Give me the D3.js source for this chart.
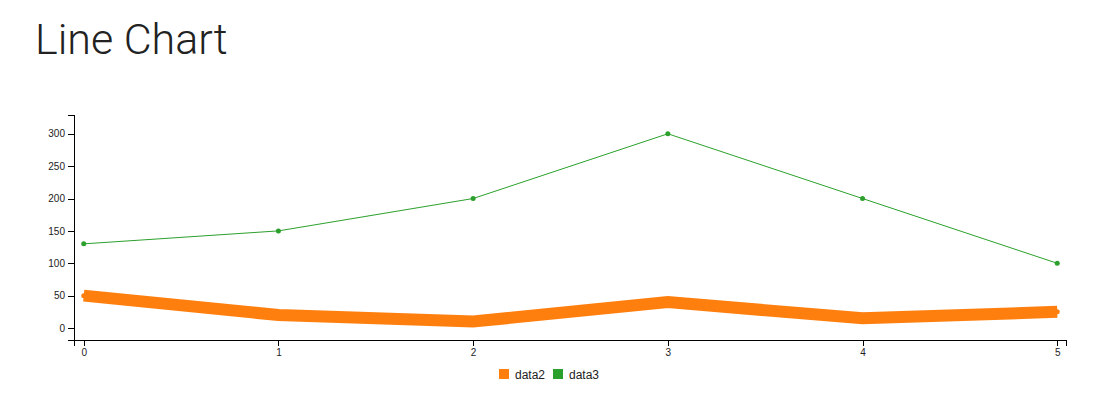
<!DOCTYPE html>
<html>
<head>
<meta charset="utf-8">
<script src="https://cdn.jsdelivr.net/npm/d3@7"></script>
<style>
  body { margin: 0; background: #fff; font-family: "Liberation Sans", Arial, sans-serif; }
  h1 { position: absolute; left: 35px; top: 14px; margin: 0; font-family: Roboto, sans-serif; font-weight: 300; font-size: 43px; color: #222; }
  .axis text { font-size: 10px; fill: #222; font-family: "Liberation Sans", Arial, sans-serif; }
  .axis path, .axis line { stroke: #000; shape-rendering: crispEdges; }
</style>
</head>
<body>
<h1>Line Chart</h1>
<svg width="1112" height="419"></svg>
<script>
const xValues = [0, 1, 2, 3, 4, 5];
const data2 = [50, 20, 10, 40, 15, 25];
const data3 = [130, 150, 200, 300, 200, 100];
const yTicks = [0, 50, 100, 150, 200, 250, 300];

const series = [
  { name: "data2", values: data2, color: "#ff7f0e", width: 12 },
  { name: "data3", values: data3, color: "#2ca02c", width: 1 }
];

const margin = { left: 74, top: 115 };
const plot = { width: 992, height: 225 };

const svg = d3.select("svg");
const g = svg.append("g").attr("transform", `translate(${margin.left},${margin.top})`);

const x = d3.scaleLinear().domain([-0.05, 5.045]).range([0, plot.width]);
const y = d3.scaleLinear().domain([-18.5, 329]).range([plot.height, 0]);

g.append("g").attr("class", "axis")
  .call(d3.axisLeft(y).tickValues(yTicks).tickSize(6));

g.append("g").attr("class", "axis")
  .attr("transform", `translate(0,${plot.height})`)
  .call(d3.axisBottom(x).tickValues(xValues).tickFormat(d3.format("d")).tickSize(6));

const line = d3.line()
  .x((d, i) => x(xValues[i]))
  .y(d => y(d));

series.forEach(s => {
  g.append("path")
    .datum(s.values)
    .attr("fill", "none")
    .attr("stroke", s.color)
    .attr("stroke-width", s.width)
    .attr("d", line);
  g.selectAll(null)
    .data(s.values)
    .enter().append("circle")
    .attr("cx", (d, i) => x(xValues[i]))
    .attr("cy", d => y(d))
    .attr("r", 2.5)
    .attr("fill", s.color);
});

// legend
const legend = svg.append("g").attr("transform", "translate(499,369)");
let lx = 0;
series.forEach(s => {
  const item = legend.append("g").attr("transform", `translate(${lx},0)`);
  item.append("rect").attr("width", 10).attr("height", 10).attr("fill", s.color);
  item.append("text").attr("x", 16).attr("y", 9.5)
    .style("font-size", "12px").style("fill", "#222").text(s.name);
  lx += 54;
});
</script>
</body>
</html>
